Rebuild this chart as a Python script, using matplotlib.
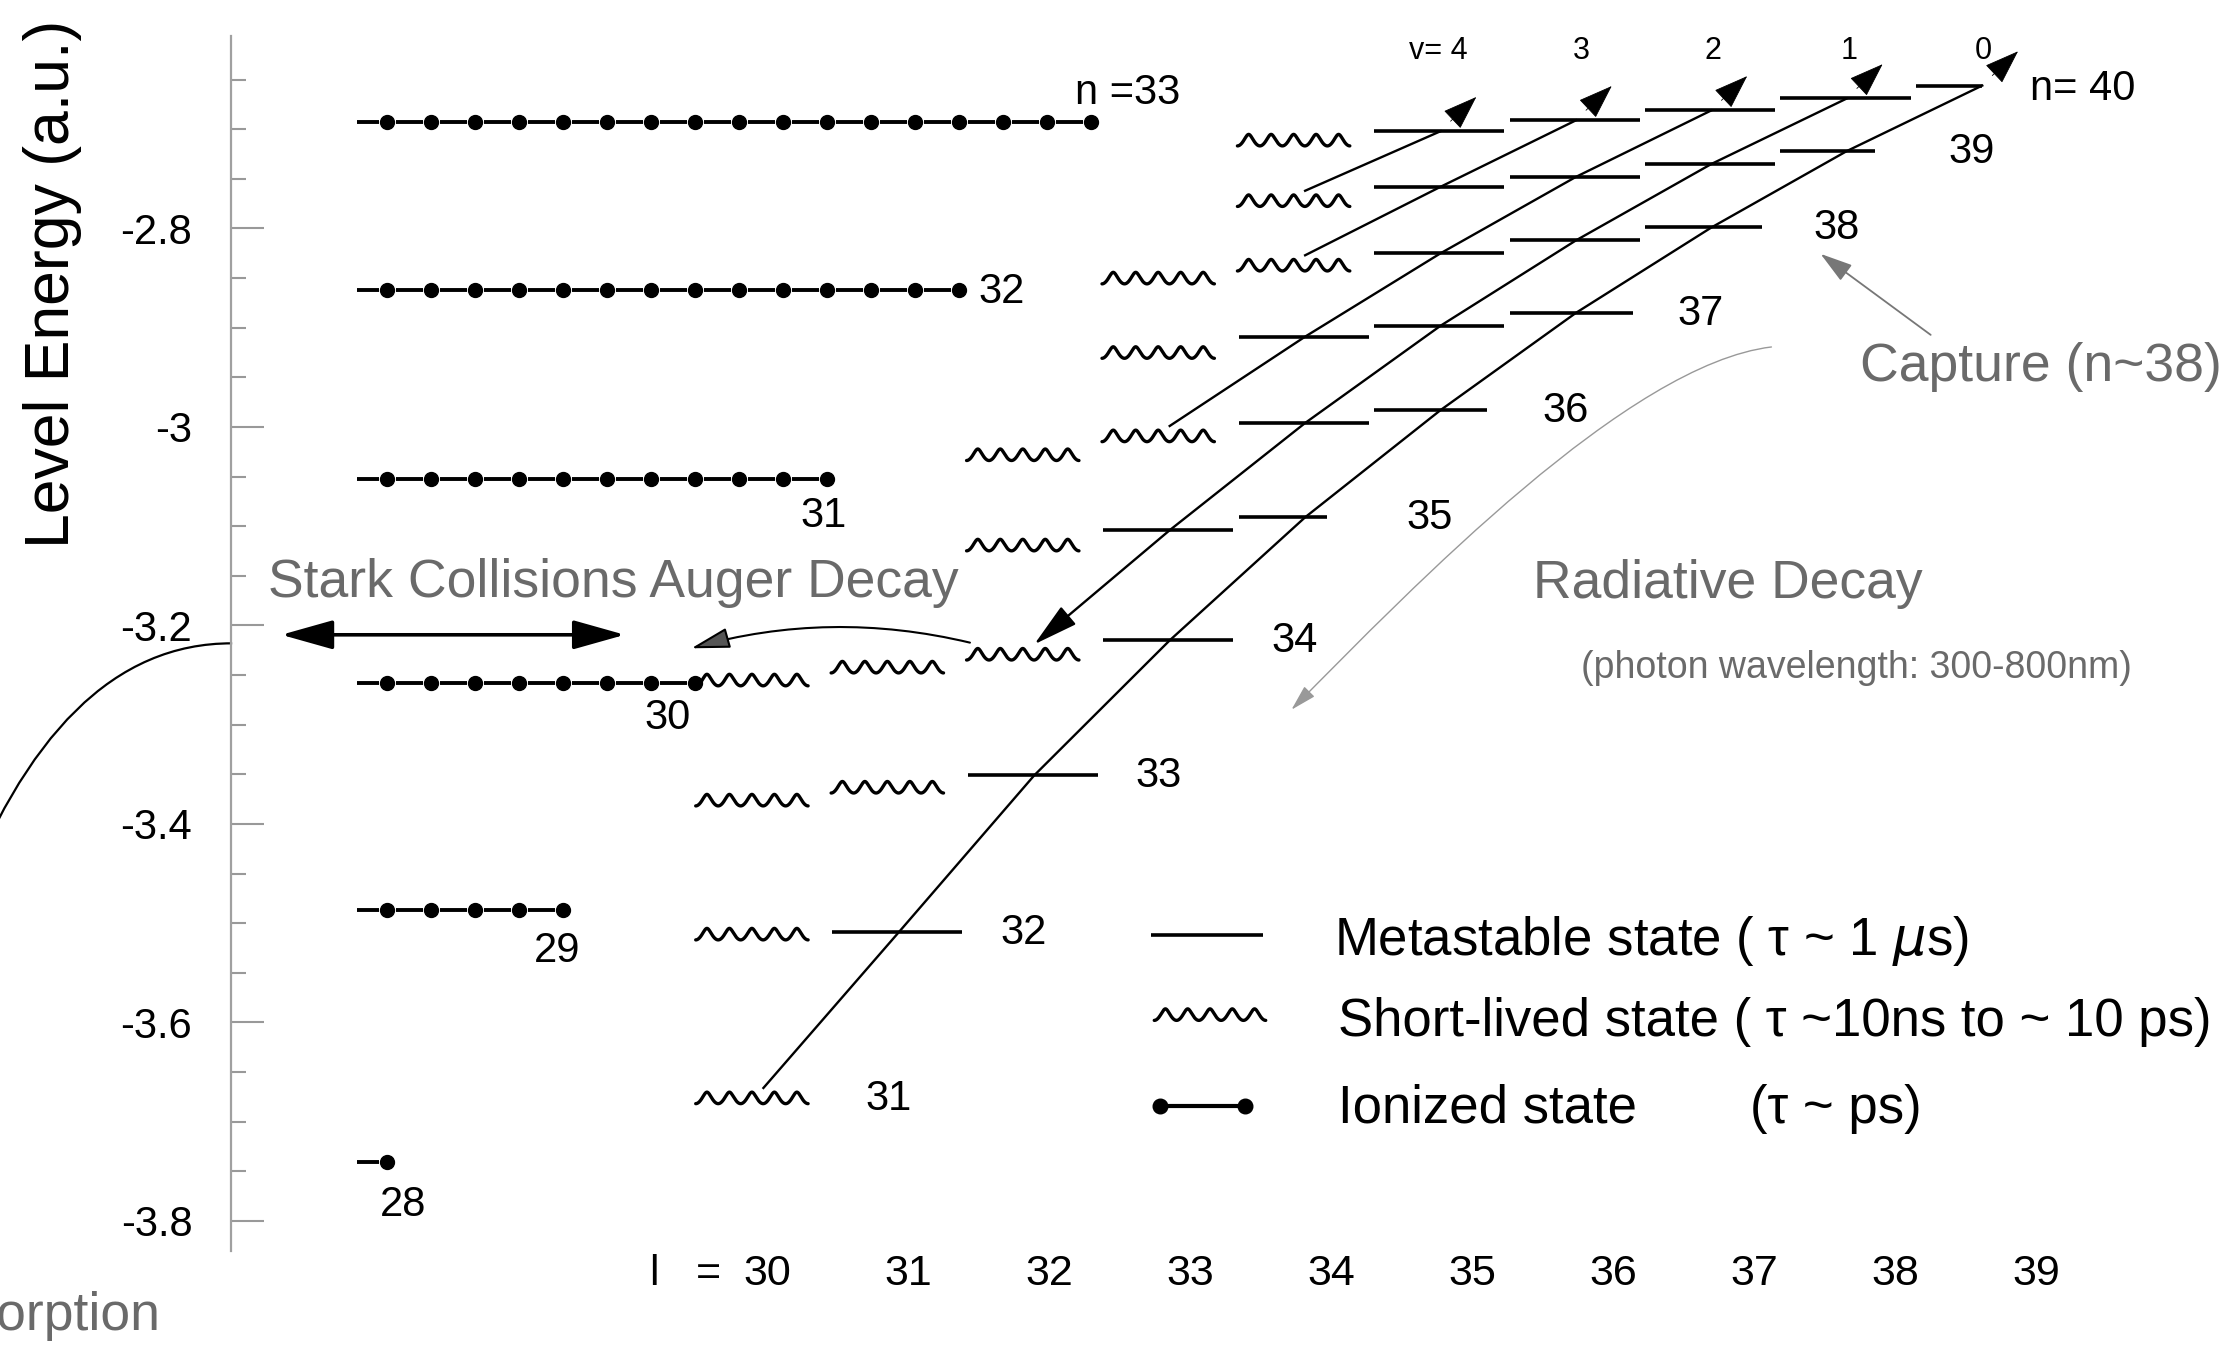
import numpy as np
import matplotlib
matplotlib.use("Agg")
import matplotlib.pyplot as plt
from matplotlib.path import Path
from matplotlib.patches import PathPatch, FancyArrowPatch

plt.rcParams["font.family"] = ["Liberation Sans", "DejaVu Sans"]
plt.rcParams["axes.unicode_minus"] = False

# ---- values ----
# ionized (Auger) rows on the left: n, level energy (a.u.), number of dots
ion_n = [33, 32, 31, 30, 29, 28]
ion_energy = [-2.693, -2.862, -3.052, -3.258, -3.487, -3.741]
ion_dots = [17, 14, 11, 8, 5, 1]

# level scheme: for each n the energies for l = l_min ... n-1
level_n = [31, 32, 33, 34, 35, 36, 37, 38, 39, 40]
level_lmin = [30, 30, 30, 30, 32, 32, 33, 33, 34, 34]
level_first_meta = [31, 31, 32, 33, 33, 34, 34, 35, 35, 35]  # below this l: short-lived
level_energy = [
    [-3.676],
    [-3.511, -3.509],
    [-3.376, -3.363, -3.351],
    [-3.255, -3.242, -3.229, -3.215],
    [-3.119, -3.104, -3.091],
    [-3.028, -3.009, -2.996, -2.983],
    [-2.925, -2.909, -2.898, -2.885],
    [-2.850, -2.837, -2.825, -2.812, -2.799],
    [-2.772, -2.758, -2.748, -2.735, -2.722],
    [-2.711, -2.702, -2.691, -2.681, -2.669, -2.656],
]

l_values = list(range(30, 40))
v_values = [4, 3, 2, 1, 0]

ytick_values = [-2.8, -3.0, -3.2, -3.4, -3.6, -3.8]
ytick_labels = ["-2.8", "-3", "-3.2", "-3.4", "-3.6", "-3.8"]

GRAY_TXT = "#6a6a6a"
LW_LEVEL = 2.6
LW_DIAG = 1.7


def _i(n):
    return level_n.index(n)


def has_level(n, l):
    if n not in level_n:
        return False
    return level_lmin[_i(n)] <= l <= n - 1


def energy(n, l):
    i = _i(n)
    return level_energy[i][l - level_lmin[i]]


def is_meta(n, l):
    return l >= level_first_meta[_i(n)]


def wavy(ax, x0, x1, y, amp=0.0058, waves=5, k=0.25, lw=2.4):
    t = np.linspace(0, waves * 2 * np.pi, 500)
    u = (t + k * np.sin(t)) / t[-1]
    ax.plot(x0 + (x1 - x0) * u, y - amp * np.cos(t), color="k", lw=lw,
            solid_joinstyle="round", solid_capstyle="round")


fig = plt.figure(figsize=(22.4, 13.48), dpi=100)
ax = fig.add_axes([0, 0, 1, 1])
ax.set_xlim(24.363, 40.903)
ax.set_ylim(-3.928, -2.5698)

# y axis
for side in ["top", "right", "bottom"]:
    ax.spines[side].set_visible(False)
ax.spines["left"].set_position(("data", 26.07))
ax.spines["left"].set_bounds(-3.83, -2.606)
ax.spines["left"].set_color("#a0a0a0")
ax.spines["left"].set_linewidth(1.6)
ax.set_xticks([])
ax.set_yticks(ytick_values, labels=ytick_labels)
minor = [v for v in np.round(np.arange(-2.65, -3.80, -0.05), 2) if v not in ytick_values]
ax.set_yticks(minor, minor=True)
ax.tick_params(axis="y", which="major", direction="in", length=24, width=1.5,
               color="#999999", pad=28, labelsize=30, labelcolor="black")
ax.tick_params(axis="y", which="minor", direction="in", length=11, width=1.5,
               color="#999999")
ax.text(24.753, -2.8561, "Level Energy (a.u.)", rotation=90, ha="center",
        va="center", fontsize=45)

# ionized rows
x_first, spacing, g = 27.222, 0.325, 0.063
for n, E, cnt in zip(ion_n, ion_energy, ion_dots):
    xs = x_first + spacing * np.arange(cnt)
    starts = np.concatenate([[x_first - 0.223], xs[:-1] + g])
    ends = np.concatenate([[x_first - g], xs[1:] - g])
    ax.hlines([E] * len(starts), starts, ends, color="k", lw=2.8)
    ax.plot(xs, [E] * cnt, "o", color="k", ms=10)

ion_label_xy = [(32.30, -2.6745), (31.588, -2.8755), (30.27, -3.1004),
                (29.118, -3.3048), (28.302, -3.5387), (27.165, -3.7948)]
for n, (x, y) in zip(ion_n, ion_label_xy):
    txt = "n =%d" % n if n == ion_n[0] else str(n)
    ax.text(x, y, txt, fontsize=30, ha="left", va="baseline")

# levels: metastable lines and short-lived wavy lines
v0_end = {35: 0.16, 36: 0.34, 37: 0.42, 38: 0.37, 39: 0.21, 40: 0.0}
for n in level_n:
    for l in range(level_lmin[_i(n)], n):
        E = energy(n, l)
        if is_meta(n, l):
            x1 = l + v0_end[n] if (l == n - 1 and n in v0_end) else l + 0.47
            ax.plot([l - 0.49, x1], [E, E], color="k", lw=LW_LEVEL,
                    solid_capstyle="butt")
        else:
            wavy(ax, l - 0.5, l + 0.33, E)

# n labels at the right end of each row
for n in level_n:
    E = energy(n, n - 1)
    if n == 40:
        ax.text(n - 1 + 0.354, E - 0.015, "n= 40", fontsize=30, va="baseline")
    else:
        ax.text(n - 1 + 0.75, E - 0.012, str(n), fontsize=30, va="baseline")

# radiative cascades along constant v = n - l - 1
for v in v_values:
    pts = []
    n = 40
    while has_level(n, n - v - 1):
        l = n - v - 1
        E = energy(n, l)
        if not is_meta(n, l):
            pts.append((l, E + 0.01))
            break
        pts.append((l, E))
        n -= 1
    xs, ys = zip(*pts)
    if v == 1:
        ax.plot(xs[:-1], ys[:-1], color="k", lw=LW_DIAG)
        ax.annotate("", xy=pts[-1], xytext=pts[-2],
                    arrowprops=dict(arrowstyle="-|>,head_length=1.4,head_width=0.36",
                                    mutation_scale=20, lw=LW_DIAG, color="k",
                                    shrinkA=0, shrinkB=0))
    else:
        ax.plot(xs, ys, color="k", lw=LW_DIAG)
    lt, Et = pts[0]
    ax.annotate("", xy=(lt + 0.264, Et + 0.0345), xytext=(lt + 0.074, Et + 0.0101),
                arrowprops=dict(arrowstyle="-|>,head_length=0.9,head_width=0.32",
                                mutation_scale=25, lw=0.6, color="k",
                                shrinkA=0, shrinkB=0))

v_label_x = [34.98, 36.04, 37.01, 38.02, 39.01]
for v, x in zip(v_values, v_label_x):
    ax.text(x, -2.6288, "v= %d" % v if v == 4 else str(v), fontsize=22,
            ha="center", va="baseline")

# l labels along the bottom
ax.text(29.189, -3.8647, "l", fontsize=31, ha="center", va="baseline")
ax.text(29.595, -3.8647, "=", fontsize=31, ha="center", va="baseline")
for k, l in enumerate(l_values):
    ax.text(30.027 + k * 1.0411, -3.8647, str(l), fontsize=31, ha="center",
            va="baseline")

# Stark collisions / Auger decay
ax.annotate("", xy=(28.977, -3.2094), xytext=(26.44, -3.2094),
            arrowprops=dict(arrowstyle="<|-|>,head_length=1.6,head_width=0.45",
                            mutation_scale=20, lw=2.6, color="k",
                            shrinkA=0, shrinkB=0))
ax.annotate("", xy=(29.468, -3.223), xytext=(31.525, -3.2173),
            arrowprops=dict(arrowstyle="-|>,head_length=1.2,head_width=0.32",
                            mutation_scale=20, lw=1.5, fc="#555555", ec="k",
                            connectionstyle="arc3,rad=0.13",
                            shrinkA=0, shrinkB=0))
ax.text(26.345, -3.1712, "Stark Collisions Auger Decay", fontsize=38.5,
        color=GRAY_TXT, va="baseline")

# absorption curve leaving the axis (text is cut by the left edge, as in the source)
absorb = Path([(26.077, -3.218), (24.784, -3.2173), (24.046, -3.4906)],
              [Path.MOVETO, Path.CURVE3, Path.CURVE3])
ax.add_patch(PathPatch(absorb, fill=False, lw=1.6, color="k"))
ax.text(25.549, -3.9102, "Absorption", fontsize=38.5, color=GRAY_TXT,
        ha="right", va="baseline")

# capture and radiative decay
ax.annotate("", xy=(37.806, -2.8256), xytext=(38.619, -2.9072),
            arrowprops=dict(arrowstyle="-|>,head_length=1.0,head_width=0.3",
                            mutation_scale=20, lw=1.3, color="#777777",
                            shrinkA=0, shrinkB=0))
ax.text(38.098, -2.954, "Capture (n~38)", fontsize=38.5, color=GRAY_TXT,
        va="baseline")

rad_path = Path([(37.443, -2.9194), (36.388, -2.9367), (34.806, -3.1597),
                 (33.899, -3.2849)],
                [Path.MOVETO, Path.CURVE4, Path.CURVE4, Path.CURVE4])
ax.add_patch(FancyArrowPatch(path=rad_path,
                             arrowstyle="-|>,head_length=0.8,head_width=0.22",
                             mutation_scale=20, lw=1.0, color="#999999"))
ax.text(35.68, -3.1725, "Radiative Decay", fontsize=38.5, color=GRAY_TXT,
        va="baseline")
ax.text(36.035, -3.2531, "(photon wavelength: 300-800nm)", fontsize=27,
        color=GRAY_TXT, va="baseline")

# legend
ax.plot([32.865, 33.688], [-3.5115, -3.5115], color="k", lw=LW_LEVEL,
        solid_capstyle="butt")
wavy(ax, 32.886, 33.709, -3.5921)
ax.plot([32.93, 33.556], [-3.6845, -3.6845], "-o", color="k", lw=3.0, ms=10.5)
ax.text(34.21, -3.5317, "Metastable state ( τ ~ 1 $\\mu$s)", fontsize=38, va="baseline")
ax.text(34.24, -3.614, "Short-lived state ( τ ~10ns to ~ 10 ps)", fontsize=38,
        va="baseline")
ax.text(34.24, -3.7012, "Ionized state", fontsize=38, va="baseline")
ax.text(37.285, -3.7012, "(τ ~ ps)", fontsize=38, va="baseline")

fig.savefig("out.png", dpi=100, facecolor="white")
